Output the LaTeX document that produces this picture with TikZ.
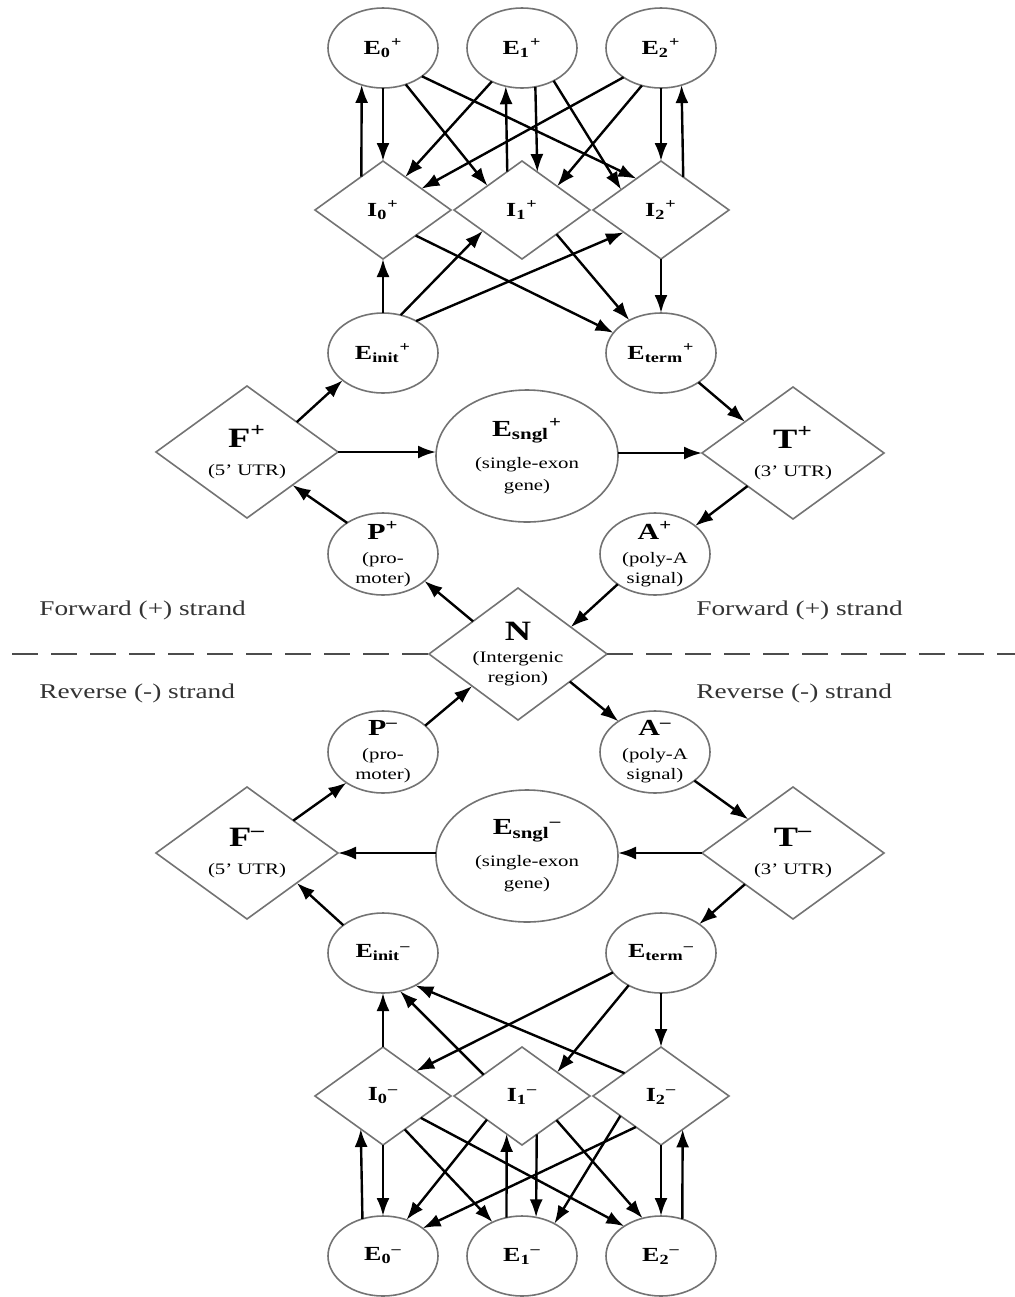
\documentclass[tikz,border=0pt]{standalone}
\usepackage{fontspec}
\setmainfont{Liberation Serif}[FakeStretch=1.3]
\usetikzlibrary{shapes.geometric,arrows.meta}
\newcommand\lbE[3]{{\fontsize{10}{12}\selectfont\bfseries #1\textsubscript{#2}\textsuperscript{#3}}}
\newcommand\lbBig[2]{{\fontsize{14}{14}\selectfont\bfseries #1\textsuperscript{#2}}}
\newcommand\lbMid[2]{{\fontsize{11.5}{12}\selectfont\bfseries #1\textsuperscript{#2}}}
\begin{document}
\begin{tikzpicture}[x=0.5pt,y=-0.5pt,
  shp/.style={draw=black!55,line width=0.8pt,inner sep=0pt,outer sep=0pt,align=center,text=black},
  sell/.style={shp,ellipse,minimum width=55pt,minimum height=40pt},
  mell/.style={shp,ellipse,minimum width=55pt,minimum height=41pt,inner ysep=-6pt,font=\fontsize{8}{10}\selectfont},
  bigell/.style={shp,ellipse,minimum width=91pt,minimum height=66pt,font=\fontsize{8}{11}\selectfont},
  idia/.style={shp,diamond,minimum width=68pt,minimum height=49pt},
  bigdia/.style={shp,diamond,minimum width=91pt,minimum height=66pt,inner sep=-3pt,font=\fontsize{8}{10}\selectfont},
  conn/.style={draw=black,line width=1.2pt,-{Latex[length=9pt,width=6.5pt]}},
  strand/.style={anchor=west,inner sep=0pt,font=\fontsize{10.5}{12}\selectfont,text=black!80},
  sep/.style={draw=black!70,line width=1.3pt,dash pattern=on 13pt off 6.5pt}
]
\useasboundingbox (0,0) rectangle (1015,1297);

% ---------- forward strand ----------
\node[sell] (E0p) at (383,48) {\lbE{E}{0}{+}};
\node[sell] (E1p) at (522,48) {\lbE{E}{1}{+}};
\node[sell] (E2p) at (661,48) {\lbE{E}{2}{+}};
\node[idia] (I0p) at (383,210) {\lbE{I}{0}{+}};
\node[idia] (I1p) at (522,210) {\lbE{I}{1}{+}};
\node[idia] (I2p) at (661,210) {\lbE{I}{2}{+}};
\node[sell] (Einitp) at (383,353) {\lbE{E}{init}{+}};
\node[sell] (Etermp) at (661,353) {\lbE{E}{term}{+}};
\node[bigdia] (Fp) at (247,452) {\lbBig{F}{+}\\[4pt](5' UTR)};
\node[bigell] (Esnglp) at (527,456) {{\fontsize{11.5}{12}\selectfont\bfseries E\textsubscript{sngl}\textsuperscript{+}}\\[5pt](single-exon\\gene)};
\node[bigdia] (Tp) at (793,453) {\lbBig{T}{+}\\[4pt](3' UTR)};
\node[mell] (Pp) at (383,554) {\lbMid{P}{+}\\[2pt](pro-\\moter)};
\node[mell] (Ap) at (655,554) {\lbMid{A}{+}\\[2pt](poly-A\\signal)};
\node[bigdia,minimum width=89pt] (N) at (518,654) {{\fontsize{14}{14}\selectfont\bfseries N}\\[1pt](Intergenic\\region)};

% ---------- reverse strand ----------
\node[mell] (Pm) at (383,752) {\lbMid{P}{--}\\[2pt](pro-\\moter)};
\node[mell] (Am) at (655,752) {\lbMid{A}{--}\\[2pt](poly-A\\signal)};
\node[bigdia] (Fm) at (247,853) {\lbBig{F}{--}\\[4pt](5' UTR)};
\node[bigell] (Esnglm) at (527,856) {{\fontsize{11.5}{12}\selectfont\bfseries E\textsubscript{sngl}\textsuperscript{--}}\\[5pt](single-exon\\gene)};
\node[bigdia] (Tm) at (793,853) {\lbBig{T}{--}\\[4pt](3' UTR)};
\node[sell] (Einitm) at (383,953) {\lbE{E}{init}{--}};
\node[sell] (Etermm) at (661,953) {\lbE{E}{term}{--}};
\node[idia] (I0m) at (383,1096) {\lbE{I}{0}{--}};
\node[idia] (I1m) at (522,1096) {\lbE{I}{1}{--}};
\node[idia] (I2m) at (661,1096) {\lbE{I}{2}{--}};
\node[sell] (E0m) at (383,1256) {\lbE{E}{0}{--}};
\node[sell] (E1m) at (522,1256) {\lbE{E}{1}{--}};
\node[sell] (E2m) at (661,1256) {\lbE{E}{2}{--}};

% ---------- strand labels and separator ----------
\node[strand] (fwdL) at (39,610) {Forward (+) strand};
\node[strand] (fwdR) at (696,610) {Forward (+) strand};
\node[strand] (revL) at (39,693) {Reverse (-) strand};
\node[strand] (revR) at (696,693) {Reverse (-) strand};
\coordinate (dashL) at (12,654);
\coordinate (dashR) at (1015,654);
\draw[sep] (dashL) -- (N.west);
\draw[sep] (N.east) -- (dashR);

% ---------- forward connectors ----------
\draw[conn] (E0p.south) -- (I0p.north);
\draw[conn] (I0p.123.6) -- (E0p.240.4);
\draw[conn] (I1p.111.4) -- (E1p.247.3);
\draw[conn] (E1p.289.9) -- (I1p.68.6);
\draw[conn] (E2p.south) -- (I2p.north);
\draw[conn] (I2p.56.4) -- (E2p.299.6);
\draw[conn] (E0p.302.4) -- (I1p.145.8);
\draw[conn] (E0p.324.1) -- (I2p.128.9);
\draw[conn] (E1p.228.2) -- (I0p.56.4);
\draw[conn] (E1p.314.6) -- (I2p.153.2);
\draw[conn] (E2p.218.7) -- (I0p.29.6);
\draw[conn] (E2p.243.1) -- (I1p.34.2);

\draw[conn] (Einitp.north) -- (I0p.south);
\draw[conn] (Einitp.65.8) -- (I1p.208.2);
\draw[conn] (Einitp.44.9) -- (I2p.211.1);
\draw[conn] (I0p.322.6) -- (Etermp.157.9);
\draw[conn] (I1p.325.8) -- (Etermp.134.6);
\draw[conn] (I2p.south) -- (Etermp.north);

\draw[conn] (Fp.31) -- (Einitp.214.5);
\draw[conn] (Fp.east) -- (Fp.east -| Esnglp.west);
\draw[conn] (Tp.west -| Esnglp.east) -- (Tp.west);
\draw[conn] (Etermp.322.7) -- (Tp.147);
\draw[conn] (Tp.216.6) -- (Ap.35.1);
\draw[conn] (Ap.219.3) -- (N.27.8);
\draw[conn] (N.144.1) -- (Pp.327.8);
\draw[conn] (Pp.139.3) -- (Fp.324.3);

% ---------- reverse connectors ----------
\draw[conn] (Pm.32.2) -- (N.215.9);
\draw[conn] (N.332.2) -- (Am.140.7);
\draw[conn] (Am.324.9) -- (Tm.143.4);
\draw[conn] (Tm.west) -- (Tm.west -| Esnglm.east);
\draw[conn] (Fm.east -| Esnglm.west) -- (Fm.east);
\draw[conn] (Fm.35.7) -- (Pm.220.7);
\draw[conn] (Tm.213) -- (Etermm.37.3);
\draw[conn] (Einitm.145.5) -- (Fm.329);

\draw[conn] (I0m.north) -- (Einitm.south);
\draw[conn] (I1m.151.8) -- (Einitm.294.2);
\draw[conn] (I2m.148.9) -- (Einitm.315.1);
\draw[conn] (Etermm.202.1) -- (I0m.37.4);
\draw[conn] (Etermm.225.4) -- (I1m.34.2);
\draw[conn] (Etermm.south) -- (I2m.north);

\draw[conn] (E0m.119.6) -- (I0m.236.4);
\draw[conn] (I0m.south) -- (E0m.north);
\draw[conn] (E1m.112.7) -- (I1m.248.6);
\draw[conn] (I1m.291.4) -- (E1m.70.1);
\draw[conn] (I2m.south) -- (E2m.north);
\draw[conn] (E2m.60.4) -- (I2m.303.6);
\draw[conn] (I1m.214.2) -- (E0m.57.6);
\draw[conn] (I2m.231.1) -- (E0m.35.9);
\draw[conn] (I0m.303.6) -- (E1m.131.8);
\draw[conn] (I2m.206.8) -- (E1m.45.4);
\draw[conn] (I0m.330.4) -- (E2m.141.3);
\draw[conn] (I1m.325.8) -- (E2m.116.9);
\end{tikzpicture}
\end{document}
